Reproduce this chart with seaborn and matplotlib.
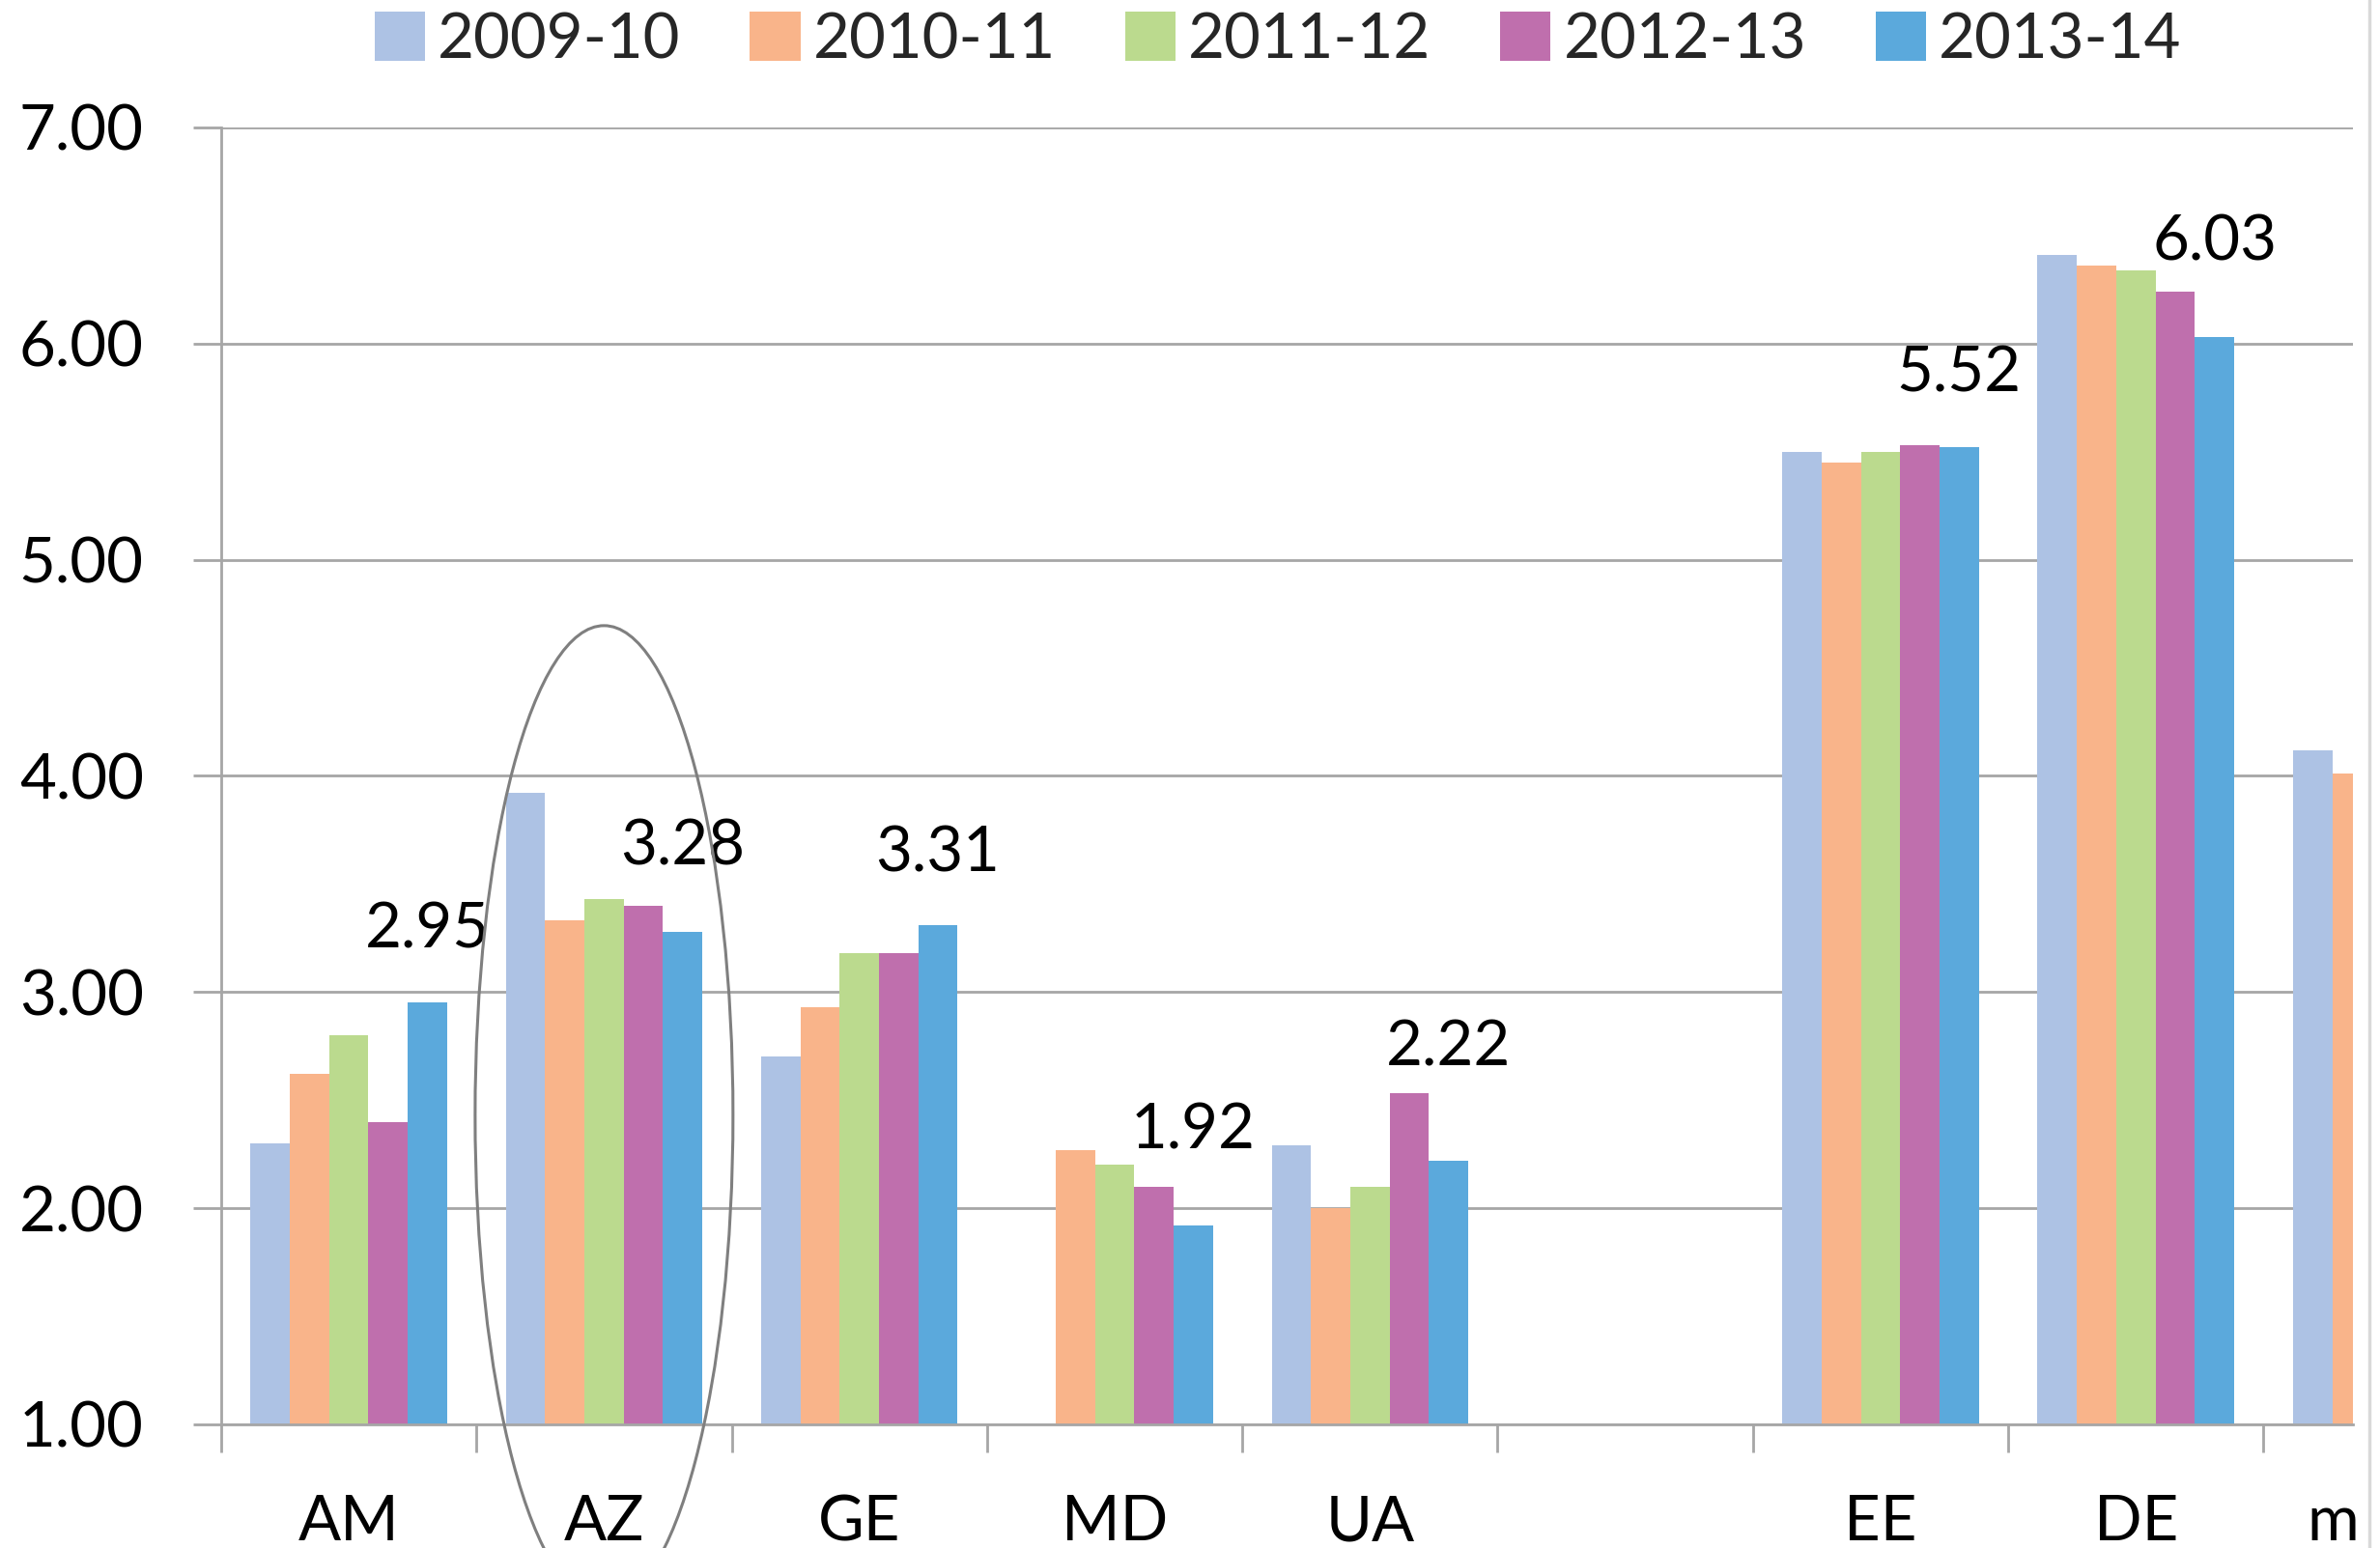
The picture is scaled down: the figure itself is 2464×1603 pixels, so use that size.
import matplotlib
matplotlib.use('Agg')
import matplotlib.pyplot as plt
from matplotlib.patches import Ellipse
from matplotlib.lines import Line2D
from matplotlib.ticker import FixedLocator, FormatStrFormatter
import numpy as np
import pandas as pd
import seaborn as sns

# Datos (la última categoría está cortada por el borde)
paises = ['AM', 'AZ', 'GE', 'MD', 'UA', ' ', 'EE', 'DE', 'm']
periodos = ['2009-10', '2010-11', '2011-12', '2012-13', '2013-14']
v_2009_10 = [2.30, 3.92, 2.70, np.nan, 2.29, np.nan, 5.50, 6.41, 4.12]
v_2010_11 = [2.62, 3.33, 2.93, 2.27, 2.00, np.nan, 5.45, 6.36, 4.01]
v_2011_12 = [2.80, 3.43, 3.18, 2.20, 2.10, np.nan, 5.50, 6.34, np.nan]
v_2012_13 = [2.40, 3.40, 3.18, 2.10, 2.53, np.nan, 5.53, 6.24, np.nan]
v_2013_14 = [2.95, 3.28, 3.31, 1.92, 2.22, np.nan, 5.52, 6.03, np.nan]
colores = ['#ADC2E4', '#F9B48A', '#BBDA8E', '#BF6FAD', '#5BA9DC']

# desplazamiento vertical de las etiquetas sobre las barras 2013-14
desplaz_etiquetas = [0.335, 0.39, 0.33, 0.44, 0.52, 0.34, 0.44]

df = pd.DataFrame({'pais': paises, '2009-10': v_2009_10, '2010-11': v_2010_11,
                   '2011-12': v_2011_12, '2012-13': v_2012_13, '2013-14': v_2013_14})
df = df.melt(id_vars='pais', var_name='periodo', value_name='valor')

sns.set_theme(style='white')
plt.rcParams['font.family'] = ['Lato', 'DejaVu Sans']
GRIS = '#A6A6A6'
FS = 47

fig = plt.figure(figsize=(24.64, 16.03), dpi=100)
ax = fig.add_axes([0.0929, 0.0799, 0.8957, 0.8378])

sns.barplot(data=df, x='pais', y='valor', hue='periodo', order=paises, hue_order=periodos,
            palette=colores, width=0.77, gap=0, errorbar=None, linewidth=0,
            saturation=1, ax=ax)

handles, labels = ax.get_legend_handles_labels()
ax.get_legend().remove()
fig.legend(handles, labels, loc='center', bbox_to_anchor=(0.537, 0.974), ncol=5,
           frameon=False, fontsize=FS, handlelength=0.8, handleheight=0.82,
           handletextpad=0.2, columnspacing=1.1, borderaxespad=0)

# Ejes estilo Excel
ax.set_yticks(range(1, 8))
ax.yaxis.set_major_formatter(FormatStrFormatter('%.2f'))
ax.set_xticks(range(len(paises)))
ax.set_xticklabels(paises[:-1] + [''])
ax.xaxis.set_minor_locator(FixedLocator(np.arange(-0.5, len(paises) - 1, 1.0)))
ax.set_ylim(1, 7)
ax.set_xlim(-0.5, 7.85)
ax.tick_params(axis='x', which='major', length=0, pad=52, labelsize=FS, labelcolor='black')
ax.tick_params(axis='x', which='minor', length=20.7, width=2, color=GRIS, direction='out', bottom=True)
ax.tick_params(axis='y', length=20.7, width=2, color=GRIS, pad=37, labelsize=FS,
               labelcolor='black', left=True, direction='out')
ax.set_xlabel('')
ax.set_ylabel('')
ax.yaxis.grid(True, color=GRIS, linewidth=2)
ax.set_axisbelow(True)
for lado in ['top', 'right']:
    ax.spines[lado].set_visible(False)
for lado in ['left', 'bottom']:
    ax.spines[lado].set_color(GRIS)
    ax.spines[lado].set_linewidth(2)

# etiqueta de la categoría cortada
ax.annotate('m', xy=(len(paises) - 1 - 0.33, 0), xycoords=ax.get_xaxis_transform(),
            xytext=(0, -52), textcoords='offset points', ha='left', va='top',
            fontsize=FS, color='black', annotation_clip=False)

# etiquetas de valor sobre las barras 2013-14
barras = [b for b in ax.containers[-1] if not np.isnan(b.get_height())]
for b, d in zip(barras, desplaz_etiquetas):
    h = b.get_height()
    ax.text(b.get_x() + b.get_width() / 2, h + d, f'{h:.2f}', ha='center', va='center',
            fontsize=FS, color='black')

# elipse alrededor de AZ
ax.add_patch(Ellipse((1, 2.43), width=1.01, height=4.53, fill=False, edgecolor='#7F7F7F',
                     linewidth=2.2, clip_on=False, zorder=5))

# borde derecho del área del gráfico
fig.add_artist(Line2D([0.9955, 0.9955], [0, 1], transform=fig.transFigure,
                      color='#D9D9D9', linewidth=2.5))

fig.savefig('out.png', dpi=100)
plt.close(fig)
